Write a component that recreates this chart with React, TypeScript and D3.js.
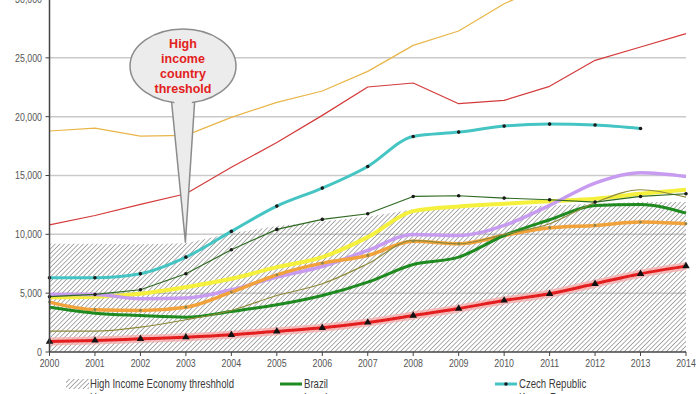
import React from "react";
import * as d3 from "d3";

const years = [2000, 2001, 2002, 2003, 2004, 2005, 2006, 2007, 2008, 2009, 2010, 2011, 2012, 2013, 2014];
const yTicks = [0, 5000, 10000, 15000, 20000, 25000, 30000];

const threshold = [9200, 9200, 9150, 9250, 10100, 10700, 11100, 11500, 12100, 12250, 12300, 12450, 12600, 12750, 12750];

const brazil = [3810, 3300, 3100, 2960, 3440, 4010, 4800, 5940, 7440, 8060, 9900, 11240, 12460, 12540, 11800];
const czech = [6310, 6310, 6650, 8060, 10250, 12400, 13930, 15770, 18320, 18690, 19200, 19370, 19290, 19000, null];
const hungary = [4700, 4890, 5290, 6650, 8690, 10420, 11270, 11750, 13220, 13280, 13080, 12940, 12740, 13220, 13450];
const israel = [18780, 19030, 18350, 18410, 19940, 21220, 22180, 23850, 26060, 27280, 29600, 31300, null, null, null];
const korea = [10810, 11600, 12550, 13450, 15700, 17800, 20110, 22520, 22860, 21100, 21390, 22580, 24790, 25920, 27060];
const poland = [4660, 4700, 4950, 5510, 6220, 7210, 8060, 9760, 11970, 12370, 12600, 12820, 13030, 13450, 13790];
const chile = [4890, 4890, 4520, 4580, 5290, 6360, 7270, 8630, 9990, 9900, 10760, 12460, 14360, 15240, 14920];
const turkey = [4240, 3590, 3530, 3810, 5090, 6560, 7550, 8200, 9420, 9200, 9900, 10560, 10760, 11040, 10900];
const russia = [1770, 1770, 2110, 2740, 3530, 4800, 5800, 7500, 9480, 9200, 10000, 10900, 12700, 13790, 13160];
const china = [890, 980, 1120, 1260, 1460, 1760, 2060, 2510, 3100, 3690, 4380, 4950, 5800, 6650, 7300];

const calloutLines = ["High", "income", "country", "threshold"];

type Series = {
  name: string;
  values: (number | null)[];
  color: string;
  width: number;
  smooth: boolean;
  marker?: "dot" | "smalldot" | "triangle";
  markerColor?: string;
  halo?: string;
};

// drawing order (bottom to top)
const series: Series[] = [
  { name: "Poland", values: poland, color: "#f4f03c", width: 4, smooth: true },
  { name: "Chile", values: chile, color: "#c79cf0", width: 3.5, smooth: true },
  { name: "Turkey", values: turkey, color: "#f2a23a", width: 3.5, smooth: true, marker: "smalldot", markerColor: "#8a8450" },
  { name: "Brazil", values: brazil, color: "#1f8a1f", width: 3, smooth: true },
  { name: "Russian Federation", values: russia, color: "#8e8a3a", width: 1.2, smooth: true },
  { name: "Hungary", values: hungary, color: "#2f6a22", width: 1.2, smooth: false, marker: "dot", markerColor: "#1a1a1a" },
  { name: "Czech Republic", values: czech, color: "#45c4c4", width: 3, smooth: true, marker: "dot", markerColor: "#1a1a1a" },
  { name: "Korea, Rep.", values: korea, color: "#d43a3a", width: 1.2, smooth: false },
  { name: "Israel", values: israel, color: "#e9b548", width: 1.2, smooth: false },
  { name: "China", values: china, color: "#e41e1e", width: 3, smooth: true, marker: "triangle", markerColor: "#111", halo: "#f7a8a8" },
];

const legendOrder = ["High Income Economy threshhold", "Brazil", "Czech Republic", "Hungary", "Israel", "Korea, Rep.", "China", "Chile", "Poland", "Russian Federation", "Turkey"];

const FONT = "'Liberation Sans', Arial, sans-serif";
// the original uses a narrow font, so texts are squeezed horizontally
const SQUEEZE = 0.8;

export default function App() {
  const width = 700;
  const height = 394;

  const x = d3.scaleLinear().domain([2000, 2014]).range([49.5, 686]);
  const y = d3.scaleLinear().domain([0, 30000]).range([352, -1]);

  const area = d3
    .area<number>()
    .x((_, i) => x(years[i]))
    .y0(y(0))
    .y1((d) => y(d));

  const makeLine = (smooth: boolean) =>
    d3
      .line<number | null>()
      .defined((d) => d !== null)
      .x((_, i) => x(years[i]))
      .y((d) => y(d as number))
      .curve(smooth ? d3.curveMonotoneX : d3.curveLinear);

  const triangle = d3.symbol().type(d3.symbolTriangle).size(24)();

  const legendCols = [66, 280, 495];
  const legendRowY = (r: number) => 384 + r * 14;

  const squeezed = (tx: number, ty: number) => `translate(${tx},${ty}) scale(${SQUEEZE},1)`;

  const renderSwatch = (name: string, lx: number, ly: number) => {
    if (name === "High Income Economy threshhold") {
      return <rect x={lx} y={ly - 5} width={23} height={10} fill="url(#hatch)" />;
    }
    const s = series.find((d) => d.name === name);
    if (!s) return null;
    return (
      <g>
        <line x1={lx} x2={lx + 22} y1={ly} y2={ly} stroke={s.color} strokeWidth={Math.max(s.width, 1.5)} />
        {s.marker === "dot" && <circle cx={lx + 11} cy={ly} r={1.8} fill={s.markerColor} />}
        {s.marker === "triangle" && <path d={triangle} transform={`translate(${lx + 11},${ly})`} fill={s.markerColor} />}
      </g>
    );
  };

  return (
    <svg
      width={width}
      height={height}
      style={{ position: "absolute", left: 0, top: 0, background: "#fff" }}
    >
      <defs>
        <pattern id="hatch" patternUnits="userSpaceOnUse" width={3.3} height={3.3} patternTransform="rotate(45)">
          <line x1={0} y1={0} x2={0} y2={3.3} stroke="#777" strokeWidth={1.2} />
        </pattern>
      </defs>

      {/* gridlines */}
      {yTicks.slice(1).map((t) => (
        <line key={t} x1={x(2000)} x2={x(2014)} y1={y(t)} y2={y(t)} stroke="#cacaca" strokeWidth={1.5} />
      ))}

      {/* threshold area */}
      <path d={area(threshold) || ""} fill="url(#hatch)" />

      {/* series */}
      {series.map((s) => {
        const line = makeLine(s.smooth);
        return (
          <g key={s.name}>
            {s.halo && (
              <path d={line(s.values) || ""} fill="none" stroke={s.halo} strokeWidth={8} strokeOpacity={0.75} strokeLinejoin="round" />
            )}
            <path d={line(s.values) || ""} fill="none" stroke={s.color} strokeWidth={s.width} strokeLinejoin="round" />
            {s.marker &&
              s.values.map((v, i) => {
                if (v === null) return null;
                const cx = x(years[i]);
                const cy = y(v);
                if (s.marker === "triangle")
                  return <path key={i} d={triangle} transform={`translate(${cx},${cy})`} fill={s.markerColor} />;
                return <circle key={i} cx={cx} cy={cy} r={s.marker === "dot" ? 1.8 : 1.4} fill={s.markerColor} />;
              })}
          </g>
        );
      })}

      {/* axes */}
      <line x1={x(2000)} x2={x(2000)} y1={-2} y2={y(0)} stroke="#444" strokeWidth={1.5} />
      <line x1={x(2000)} x2={x(2014)} y1={y(0)} y2={y(0)} stroke="#444" strokeWidth={1.5} />
      {yTicks.map((t) => (
        <g key={t}>
          <line x1={x(2000) - 4} x2={x(2000)} y1={y(t)} y2={y(t)} stroke="#444" strokeWidth={1} />
          <text transform={squeezed(42, y(t))} dy="0.35em" textAnchor="end" fontFamily={FONT} fontSize={11} fill="#555">
            {d3.format(",")(t)}
          </text>
        </g>
      ))}
      {years.map((yr) => (
        <g key={yr}>
          <line x1={x(yr)} x2={x(yr)} y1={y(0)} y2={y(0) + 4} stroke="#444" strokeWidth={1} />
          <text transform={squeezed(x(yr), 367)} textAnchor="middle" fontFamily={FONT} fontSize={11} fill="#555">
            {yr}
          </text>
        </g>
      ))}

      {/* callout */}
      <g>
        <path d={`M171,96 L${x(2003) - 0.5},${y(threshold[3]) - 1} L195,96 Z`} fill="#ececec" stroke="#8c8c8c" strokeWidth={1.5} strokeLinejoin="round" />
        <ellipse cx={183} cy={66} rx={53} ry={37} fill="#ececec" stroke="#8c8c8c" strokeWidth={1.5} />
        <path d="M172.5,96 L194,96 L190,108 L176,108 Z" fill="#ececec" />
        {calloutLines.map((t, i) => (
          <text key={t} x={183} y={48 + i * 15} textAnchor="middle" fontFamily={FONT} fontWeight="bold" fontSize={12.5} fill="#e3211c">
            {t}
          </text>
        ))}
      </g>

      {/* legend */}
      {legendOrder.map((name, i) => {
        const col = i % 3;
        const row = Math.floor(i / 3);
        const lx = legendCols[col];
        const ly = legendRowY(row);
        return (
          <g key={name}>
            {renderSwatch(name, lx, ly)}
            <text transform={squeezed(lx + 24, ly)} dy="0.35em" fontFamily={FONT} fontSize={12} fill="#3a3a3a">
              {name}
            </text>
          </g>
        );
      })}
    </svg>
  );
}
